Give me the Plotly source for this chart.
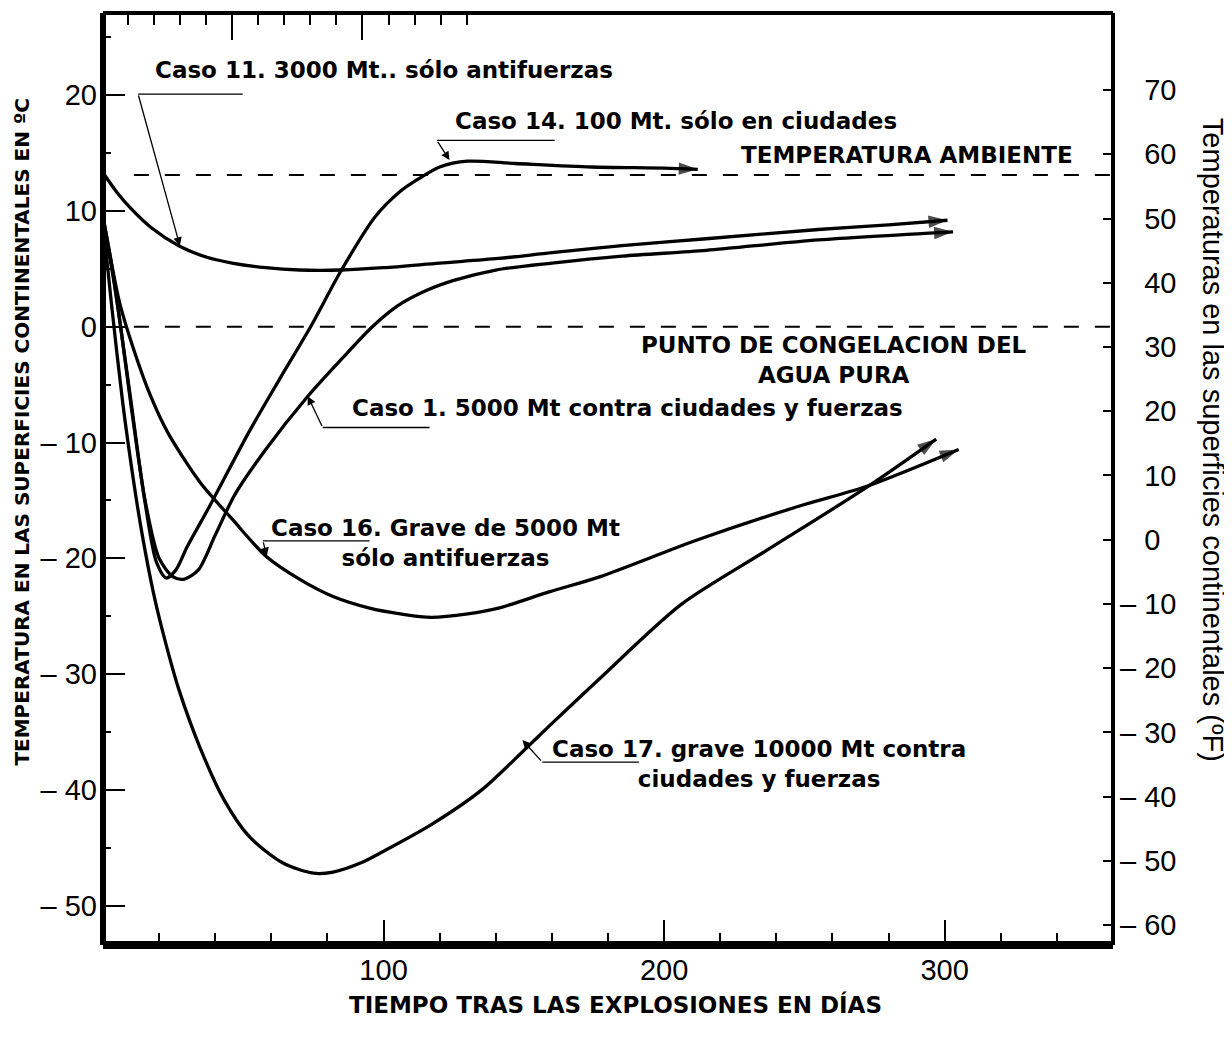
import plotly.graph_objects as go

# ---------------- data (days after the explosions, temperature in °C) ----------------
c11_days = [0, 5, 10, 17, 27, 37, 46, 58, 70, 85, 100, 120, 141, 160, 185, 215, 255, 280, 301]
c11_temp = [13.3, 11.6, 10.2, 8.6, 7.0, 6.0, 5.5, 5.1, 4.9, 4.9, 5.1, 5.5, 5.9, 6.4, 7.0, 7.6, 8.4, 8.8, 9.2]

c14_days = [0, 3, 6, 10, 15, 19, 22.5, 26, 30, 38, 52, 63, 74, 85, 97, 106, 112, 120, 130, 147, 174, 200, 212]
c14_temp = [9.0, 5.2, 0.5, -6.8, -15.2, -20.3, -21.7, -21.0, -19.0, -15.5, -9.1, -4.5, 0.0, 4.9, 9.5, 11.7,
            12.7, 13.8, 14.3, 14.1, 13.8, 13.7, 13.6]

c1_days = [0, 3, 6, 10, 15, 20, 25, 29, 34, 40, 47, 58, 73, 85, 96, 105, 115, 125, 140, 160, 185, 215, 255, 303]
c1_temp = [9.5, 5.5, 0.5, -6.5, -15.0, -20.0, -21.6, -21.8, -21.0, -18.0, -14.5, -10.6, -6.0, -2.8, 0.0,
           1.8, 3.1, 4.0, 4.9, 5.5, 6.1, 6.6, 7.5, 8.2]

c16_days = [0, 3, 6, 11, 17, 23, 34.5, 46, 58, 70, 82, 95, 106, 117, 130, 141, 159, 177, 212, 248, 272, 305]
c16_temp = [9.5, 5.5, 2.0, -2.0, -6.0, -9.1, -13.4, -16.6, -19.8, -21.8, -23.3, -24.3, -24.8, -25.1, -24.8,
            -24.3, -22.9, -21.6, -18.4, -15.5, -13.8, -10.6]

c17_days = [0, 3, 7, 11, 14, 18, 22, 27, 34.5, 43, 52, 64, 75, 82, 92, 100, 117, 135, 150, 159, 177, 206,
            236, 272, 297]
c17_temp = [9.0, 2.0, -6.5, -13.5, -18.0, -23.0, -27.0, -31.3, -36.3, -40.8, -44.0, -46.3, -47.2, -47.1,
            -46.3, -45.3, -43.0, -40.0, -36.6, -34.5, -30.4, -24.0, -19.4, -13.9, -9.7]

ref_names = ["TEMPERATURA AMBIENTE", "PUNTO DE CONGELACION DEL<br>AGUA PURA"]
ref_levels = [13.1, 0.0]
ref_days = [11, 360]

c_ticks = [-50, -40, -30, -20, -10, 0, 10, 20]
f_ticks = [-60, -50, -40, -30, -20, -10, 0, 10, 20, 30, 40, 50, 60, 70]
x_ticks = [100, 200, 300]


def lab(v):
    return f"\u2013 {abs(v)}" if v < 0 else str(v)


def rlab(v):
    return f"\u2013 {abs(v)}" if v < 0 else "\u2007\u2008" + str(v)


fig = go.Figure()

for d, t in [(c11_days, c11_temp), (c14_days, c14_temp), (c1_days, c1_temp),
             (c16_days, c16_temp), (c17_days, c17_temp)]:
    n = len(d)
    fig.add_trace(go.Scatter(
        x=d, y=t, mode="lines+markers",
        line=dict(color="black", width=3.3, shape="spline", smoothing=0.8),
        marker=dict(symbol="arrow", size=[0] * (n - 1) + [20], angleref="previous", color="black",
                    line=dict(width=0)),
        hoverinfo="skip", showlegend=False))

for lvl in ref_levels:
    fig.add_trace(go.Scatter(
        x=ref_days, y=[lvl, lvl], mode="lines",
        line=dict(color="black", width=2, dash="15px,16px"),
        hoverinfo="skip", showlegend=False))

# dummy traces so that secondary axes are drawn
fig.add_trace(go.Scatter(x=[None], y=[None], yaxis="y2", showlegend=False, hoverinfo="skip"))
fig.add_trace(go.Scatter(x=[None], y=[None], xaxis="x2", showlegend=False, hoverinfo="skip"))

tick_font = dict(family="Liberation Sans, Arial, sans-serif", size=29, color="black")
BOLD = "DejaVu Sans, sans-serif"
bold = dict(family=BOLD, size=23, color="black", weight="bold")

fig.update_layout(
    width=1232, height=1043,
    margin=dict(l=95, r=127, t=5, b=106),
    paper_bgcolor="white", plot_bgcolor="white",
    showlegend=False,
    xaxis=dict(range=[0, 360], tickvals=x_ticks, ticks="inside", ticklen=25, tickwidth=2,
               tickcolor="black", showgrid=False, zeroline=False, showline=False,
               tickfont=tick_font, ticklabelstandoff=5,
               minor=dict(tickvals=[v for v in range(20, 360, 20) if v not in x_ticks],
                          ticks="inside", ticklen=12, tickwidth=2, tickcolor="black")),
    xaxis2=dict(overlaying="x", side="top", range=[0.06, 38.75], tickvals=[5, 10], ticks="inside",
                ticklen=27, tickwidth=1.5, tickcolor="black", showticklabels=False, showgrid=False,
                zeroline=False, showline=False,
                minor=dict(tickvals=list(range(1, 15)), ticks="inside", ticklen=12, tickwidth=1.5,
                           tickcolor="black")),
    yaxis=dict(range=[-53.4, 27.1], tickvals=c_ticks, ticktext=[lab(v) for v in c_ticks],
               ticks="inside", ticklen=22, tickwidth=2, tickcolor="black", showgrid=False,
               zeroline=False, showline=False, tickfont=tick_font, ticklabelstandoff=5,
               minor=dict(dtick=5, tick0=0, ticks="inside", ticklen=8, tickwidth=2, tickcolor="black")),
    yaxis2=dict(overlaying="y", side="right", anchor="x", range=[-63.1, 82], tickvals=f_ticks,
                ticktext=[rlab(v) for v in f_ticks], ticks="inside", ticklen=10, tickwidth=2,
                tickcolor="black", showgrid=False, zeroline=False, showline=False, tickfont=tick_font,
                ticklabelstandoff=6),
)

# frame
for x0, y0, x1, y1, w in [(0, 0, 0, 1, 6), (0, 0, 1, 0, 8), (0, 1, 1, 1, 4), (1, 0, 1, 1, 4)]:
    fig.add_shape(type="line", xref="paper", yref="paper", x0=x0, y0=y0, x1=x1, y1=y1,
                  line=dict(color="black", width=w))

# axis titles
fig.add_annotation(text="TEMPERATURA EN LAS SUPERFICIES CONTINENTALES EN ºC", xref="paper", yref="paper",
                   x=-0.080, y=0.550, xanchor="center", yanchor="middle", textangle=-90, showarrow=False,
                   font=dict(family=BOLD, size=20, color="black", weight="bold"))
fig.add_annotation(text="Temperaturas en las superficies continentales (ºF)", xref="paper", yref="paper",
                   x=1.099, y=0.542, xanchor="center", yanchor="middle", textangle=90, showarrow=False,
                   font=dict(family="Liberation Sans, Arial, sans-serif", size=29, color="black"))
fig.add_annotation(text="TIEMPO TRAS LAS EXPLOSIONES EN DÍAS", xref="paper", yref="paper",
                   x=0.507, y=-0.064, xanchor="center", yanchor="middle", showarrow=False,
                   font=dict(family=BOLD, size=23, color="black", weight="bold"))

# curve labels
labels = [
    ("Caso 11. 3000 Mt.. sólo antifuerzas", 17.8, 22.2, "left"),
    ("Caso 14. 100 Mt. sólo en ciudades", 124.6, 17.8, "left"),
    (ref_names[0], 226.7, 14.8, "left"),
    (ref_names[1], 260.5, -2.9, "center"),
    ("Caso 1. 5000 Mt contra ciudades y fuerzas", 87.9, -7.0, "left"),
    ("Caso 16. Grave de 5000 Mt<br>sólo antifuerzas", 122.0, -18.7, "center"),
    ("Caso 17. grave 10000 Mt contra<br>ciudades y fuerzas", 233.8, -37.8, "center"),
]
for txt, x, y, anc in labels:
    fig.add_annotation(text=txt, x=x, y=y, xref="x", yref="y", xanchor=anc, yanchor="middle",
                       align="center", showarrow=False, font=bold)

# leader lines (horizontal part + arrow to the curve)
leaders = [
    ((12.5, 20.1), (49.8, 20.1), (27.4, 7.0)),
    ((119.0, 16.1), (161.0, 16.1), (123.5, 14.4)),
    ((78.3, -8.7), (116.4, -8.7), (73.0, -6.0)),
    ((57.0, -18.5), (95.0, -18.5), (58.4, -19.8)),
    ((156.6, -37.6), (191.0, -37.6), (149.5, -35.7)),
]
for (sx, sy), (ex, ey), (tx, ty) in leaders:
    fig.add_shape(type="line", xref="x", yref="y", x0=sx, y0=sy, x1=ex, y1=ey,
                  line=dict(color="black", width=1.3))
    fig.add_annotation(x=tx, y=ty, ax=sx, ay=sy, axref="x", ayref="y", xref="x", yref="y", text="",
                       showarrow=True, arrowhead=2, arrowsize=1.3, arrowwidth=1.3, arrowcolor="black")

fig.write_html("out.html")
